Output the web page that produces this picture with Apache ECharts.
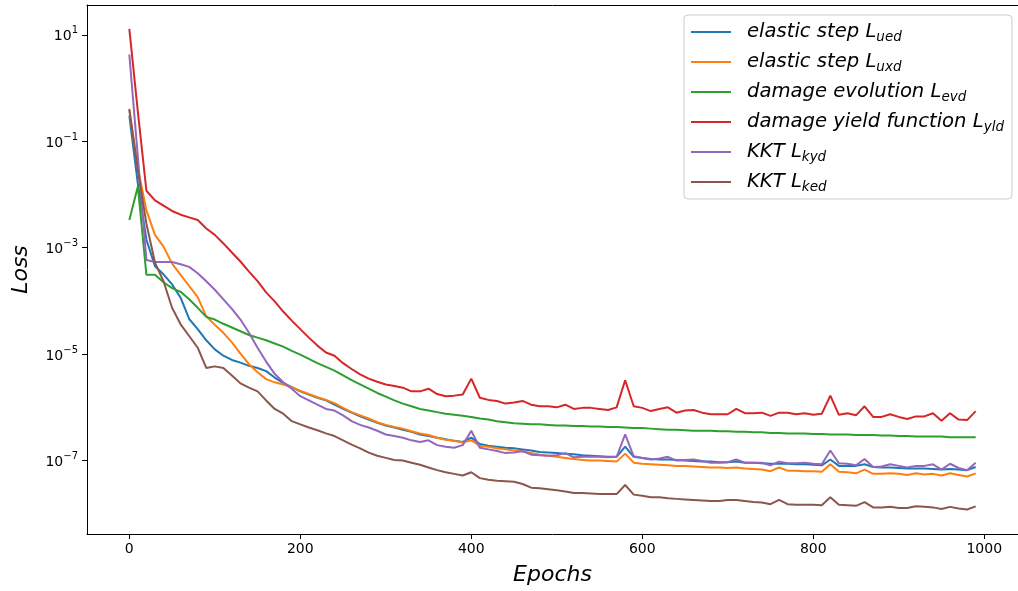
<!DOCTYPE html>
<html><head><meta charset="utf-8">
<script src="https://cdn.jsdelivr.net/npm/echarts@6/dist/echarts.min.js"></script>
<style>html,body{margin:0;padding:0;background:#fff}#c{width:1018px;height:591px}</style>
</head><body><div id="c"></div>
<script>
// Epochs (x values)
const epochs = [0,10,20,30,40,50,60,70,80,90,100,110,120,130,140,150,160,170,180,190,
  200,210,220,230,240,250,260,270,280,290,300,310,320,330,340,350,360,370,380,390,
  400,410,420,430,440,450,460,470,480,490,500,510,520,530,540,550,560,570,580,590,
  600,610,620,630,640,650,660,670,680,690,700,710,720,730,740,750,760,770,780,790,
  800,810,820,830,840,850,860,870,880,890,900,910,920,930,940,950,960,970,980,990];

// Loss values, stored as log10(loss)
const log10Ued = [-0.52,-1.8,-2.85,-3.35,-3.50,-3.69,-3.94,-4.34,-4.53,-4.74,
  -4.91,-5.03,-5.11,-5.16,-5.22,-5.26,-5.32,-5.44,-5.54,-5.62,
  -5.70,-5.76,-5.82,-5.87,-5.95,-6.03,-6.10,-6.17,-6.23,-6.29,
  -6.34,-6.38,-6.42,-6.46,-6.51,-6.54,-6.57,-6.60,-6.63,-6.65,
  -6.57,-6.69,-6.72,-6.74,-6.76,-6.77,-6.79,-6.81,-6.84,-6.85,
  -6.86,-6.87,-6.88,-6.90,-6.91,-6.92,-6.93,-6.93,-6.74,-6.93,
  -6.95,-6.97,-6.98,-6.98,-6.99,-7.00,-7.01,-7.02,-7.02,-7.03,
  -7.03,-7.02,-7.04,-7.04,-7.05,-7.06,-7.06,-7.06,-7.07,-7.07,
  -7.08,-7.09,-6.98,-7.10,-7.10,-7.10,-7.07,-7.12,-7.13,-7.13,
  -7.14,-7.15,-7.15,-7.15,-7.16,-7.17,-7.16,-7.17,-7.18,-7.12];
const log10Uxd = [-0.42,-1.5,-2.30,-2.76,-2.98,-3.30,-3.51,-3.72,-3.93,-4.29,
  -4.45,-4.60,-4.78,-4.99,-5.19,-5.34,-5.47,-5.53,-5.57,-5.62,
  -5.69,-5.75,-5.81,-5.86,-5.92,-6.01,-6.09,-6.15,-6.21,-6.28,
  -6.33,-6.37,-6.40,-6.45,-6.49,-6.52,-6.57,-6.61,-6.63,-6.66,
  -6.62,-6.72,-6.74,-6.77,-6.79,-6.81,-6.83,-6.86,-6.89,-6.91,
  -6.93,-6.95,-6.97,-6.99,-7.00,-7.00,-7.01,-7.02,-6.87,-7.04,
  -7.06,-7.07,-7.08,-7.09,-7.10,-7.10,-7.11,-7.12,-7.13,-7.13,
  -7.14,-7.13,-7.15,-7.16,-7.17,-7.20,-7.13,-7.19,-7.19,-7.20,
  -7.20,-7.21,-7.07,-7.21,-7.22,-7.24,-7.17,-7.25,-7.25,-7.24,
  -7.25,-7.27,-7.24,-7.26,-7.25,-7.28,-7.24,-7.27,-7.30,-7.24];
const log10Evd = [-2.48,-1.85,-3.51,-3.51,-3.65,-3.76,-3.83,-3.97,-4.13,-4.30,
  -4.35,-4.43,-4.50,-4.57,-4.64,-4.69,-4.74,-4.80,-4.86,-4.94,
  -5.01,-5.09,-5.17,-5.24,-5.31,-5.40,-5.49,-5.57,-5.65,-5.73,
  -5.80,-5.87,-5.93,-5.98,-6.03,-6.06,-6.09,-6.12,-6.14,-6.16,
  -6.18,-6.21,-6.23,-6.26,-6.28,-6.30,-6.31,-6.32,-6.32,-6.33,
  -6.34,-6.34,-6.35,-6.35,-6.36,-6.36,-6.37,-6.37,-6.38,-6.39,
  -6.39,-6.40,-6.41,-6.42,-6.42,-6.43,-6.44,-6.44,-6.44,-6.45,
  -6.45,-6.46,-6.46,-6.47,-6.47,-6.48,-6.48,-6.49,-6.49,-6.49,
  -6.50,-6.50,-6.51,-6.51,-6.51,-6.52,-6.52,-6.52,-6.53,-6.53,
  -6.54,-6.54,-6.55,-6.55,-6.55,-6.55,-6.56,-6.56,-6.56,-6.56];
const log10Yld = [1.11,-0.45,-1.93,-2.11,-2.21,-2.31,-2.38,-2.43,-2.48,-2.64,
  -2.76,-2.92,-3.09,-3.26,-3.45,-3.63,-3.84,-4.01,-4.20,-4.37,
  -4.53,-4.69,-4.84,-4.97,-5.03,-5.17,-5.28,-5.38,-5.46,-5.52,
  -5.57,-5.60,-5.63,-5.70,-5.70,-5.65,-5.75,-5.79,-5.78,-5.76,
  -5.46,-5.82,-5.86,-5.88,-5.93,-5.91,-5.88,-5.95,-5.98,-5.98,
  -6.00,-5.95,-6.03,-6.01,-6.01,-6.03,-6.05,-6.00,-5.49,-5.98,
  -6.01,-6.07,-6.03,-6.00,-6.10,-6.06,-6.05,-6.10,-6.13,-6.13,
  -6.13,-6.03,-6.11,-6.11,-6.10,-6.16,-6.10,-6.10,-6.13,-6.11,
  -6.14,-6.12,-5.78,-6.14,-6.11,-6.15,-5.98,-6.18,-6.18,-6.13,
  -6.18,-6.22,-6.17,-6.17,-6.11,-6.25,-6.11,-6.23,-6.24,-6.07];
const log10Kyd = [0.63,-1.3,-3.23,-3.27,-3.27,-3.27,-3.31,-3.36,-3.48,-3.63,
  -3.79,-3.97,-4.15,-4.35,-4.60,-4.88,-5.14,-5.37,-5.53,-5.65,
  -5.79,-5.87,-5.95,-6.03,-6.06,-6.15,-6.26,-6.33,-6.38,-6.44,
  -6.51,-6.54,-6.57,-6.62,-6.65,-6.62,-6.71,-6.74,-6.76,-6.71,
  -6.44,-6.76,-6.79,-6.82,-6.86,-6.85,-6.82,-6.89,-6.90,-6.91,
  -6.90,-6.86,-6.94,-6.93,-6.93,-6.93,-6.94,-6.93,-6.51,-6.92,
  -6.95,-6.98,-6.96,-6.93,-7.00,-6.99,-6.98,-7.01,-7.04,-7.04,
  -7.03,-6.98,-7.04,-7.04,-7.04,-7.09,-7.02,-7.05,-7.05,-7.04,
  -7.06,-7.07,-6.81,-7.05,-7.06,-7.09,-6.97,-7.12,-7.11,-7.07,
  -7.10,-7.13,-7.10,-7.10,-7.07,-7.17,-7.06,-7.14,-7.18,-7.04];
const log10Ked = [-0.39,-1.55,-2.55,-3.28,-3.63,-4.13,-4.44,-4.66,-4.88,-5.26,
  -5.23,-5.26,-5.40,-5.55,-5.63,-5.70,-5.87,-6.03,-6.12,-6.26,
  -6.32,-6.38,-6.43,-6.49,-6.54,-6.62,-6.70,-6.77,-6.85,-6.91,
  -6.95,-6.99,-7.00,-7.04,-7.08,-7.13,-7.18,-7.22,-7.25,-7.28,
  -7.22,-7.33,-7.36,-7.38,-7.39,-7.40,-7.44,-7.51,-7.52,-7.54,
  -7.56,-7.58,-7.61,-7.61,-7.62,-7.63,-7.63,-7.63,-7.46,-7.64,
  -7.66,-7.69,-7.69,-7.71,-7.72,-7.73,-7.74,-7.75,-7.76,-7.76,
  -7.74,-7.74,-7.76,-7.78,-7.79,-7.82,-7.74,-7.82,-7.83,-7.83,
  -7.83,-7.84,-7.69,-7.83,-7.84,-7.85,-7.78,-7.88,-7.88,-7.87,
  -7.89,-7.89,-7.86,-7.87,-7.88,-7.91,-7.87,-7.90,-7.92,-7.86];

const seriesLog = [log10Ued, log10Uxd, log10Evd, log10Yld, log10Kyd, log10Ked];
const legendBase = ['elastic step L', 'elastic step L', 'damage evolution L', 'damage yield function L', 'KKT L', 'KKT L'];
const legendSub = ['ued', 'uxd', 'evd', 'yld', 'kyd', 'ked'];
const colors = ['#1f77b4', '#ff7f0e', '#2ca02c', '#d62728', '#9467bd', '#8c564b'];
const yTickValues = [10, 1e-1, 1e-3, 1e-5, 1e-7];
const xTickValues = [0, 200, 400, 600, 800, 1000];
const xTitle = 'Epochs';
const yTitle = 'Loss';

const FONT = 'DejaVu Sans';

const names = legendBase.map((b, i) => b + '_' + legendSub[i]);
const series = seriesLog.map((arr, i) => ({
  name: names[i],
  type: 'line',
  data: arr.map((v, j) => [epochs[j], Math.pow(10, v)]),
  showSymbol: false,
  symbol: 'none',
  lineStyle: { color: colors[i], width: 2 },
  itemStyle: { color: colors[i] },
  animation: false,
  z: 2 + i
}));

const chart = echarts.init(document.getElementById('c'), null, { renderer: 'canvas' });
chart.setOption({
  animation: false,
  backgroundColor: '#fff',
  grid: { left: 87, top: 5, width: 936.5, height: 532.7, containLabel: false },
  xAxis: [{
    type: 'value', min: -49.5, max: 1039.5,
    name: xTitle, nameLocation: 'middle', nameGap: 30,
    nameTextStyle: { fontFamily: FONT, fontStyle: 'italic', fontSize: 22, color: '#000' },
    axisLine: { show: true, onZero: false, lineStyle: { color: '#000', width: 1 } },
    axisTick: { show: true, length: 5, lineStyle: { color: '#000' }, customValues: xTickValues },
    axisLabel: { fontFamily: FONT, fontSize: 14, color: '#000', margin: 8, customValues: xTickValues,
      formatter: v => String(Math.round(v)) },
    splitLine: { show: false }
  }, {
    type: 'value', min: -49.5, max: 1039.5, position: 'top',
    axisLine: { show: true, onZero: false, lineStyle: { color: '#000', width: 1 } },
    axisTick: { show: false }, axisLabel: { show: false }, splitLine: { show: false }
  }],
  yAxis: {
    type: 'log', logBase: 10, min: Math.pow(10, -8.38), max: Math.pow(10, 1.56),
    name: yTitle, nameLocation: 'middle', nameGap: 55, nameRotate: 90,
    nameTextStyle: { fontFamily: FONT, fontStyle: 'italic', fontSize: 22, color: '#000' },
    axisLine: { show: true, onZero: false, lineStyle: { color: '#000', width: 1 } },
    axisTick: { show: true, length: 5, lineStyle: { color: '#000' }, customValues: yTickValues },
    axisLabel: {
      fontFamily: FONT, fontSize: 14, color: '#000', margin: 9, customValues: yTickValues,
      formatter: v => {
        const e = Math.round(Math.log10(v));
        return '{b|10}{s|' + (e < 0 ? '\u2212' + (-e) : String(e)) + '}';
      },
      rich: {
        b: { fontFamily: FONT, fontSize: 14, color: '#000', lineHeight: 18, verticalAlign: 'bottom' },
        s: { fontFamily: FONT, fontSize: 10, color: '#000', lineHeight: 12, verticalAlign: 'top' }
      }
    },
    splitLine: { show: false }, minorTick: { show: false }
  },
  legend: {
    data: names,
    orient: 'vertical', left: 684, top: 15,
    backgroundColor: 'rgba(255,255,255,0.8)', borderColor: '#cccccc', borderWidth: 1, borderRadius: 4,
    padding: [5, 8, 5, 7],
    icon: 'rect', itemWidth: 40, itemHeight: 2, itemGap: 6,
    formatter: n => { const i = names.indexOf(n); return legendBase[i] + '{sub|' + legendSub[i] + '}'; },
    textStyle: {
      fontFamily: FONT, fontStyle: 'italic', fontSize: 19.6, color: '#000', lineHeight: 24,
      padding: [0, 0, 0, 11],
      rich: { sub: { fontFamily: FONT, fontStyle: 'italic', fontSize: 13.5, color: '#000', lineHeight: 12, verticalAlign: 'bottom' } }
    }
  },
  series: series
});
</script></body></html>
